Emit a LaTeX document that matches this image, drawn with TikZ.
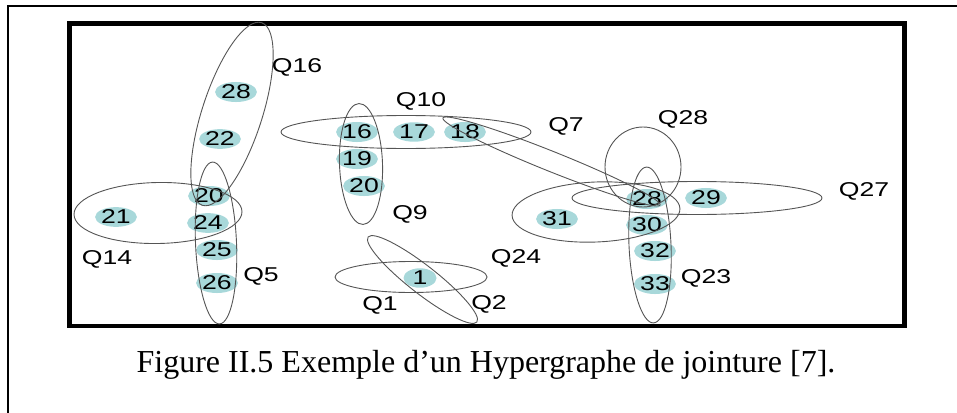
\documentclass[tikz,border=0pt]{standalone}
\usepackage{fontspec}
\setmainfont{Liberation Serif}
\newfontfamily\lblfont[FakeStretch=1.33]{Liberation Sans}
\usetikzlibrary{shapes.geometric}
\definecolor{vfill}{RGB}{168,216,218}
\definecolor{hline}{RGB}{85,85,85}

\begin{document}
\begin{tikzpicture}[x=1pt,y=-1pt,
	vert/.style={ellipse,fill=vfill,inner sep=0pt,minimum width=33pt,minimum height=18pt,font=\lblfont\fontsize{20}{20}\selectfont},
	hedge/.style={ellipse,draw=hline,line width=0.9pt,inner sep=0pt},
	qlbl/.style={font=\lblfont\fontsize{20}{20}\selectfont}]
				\useasboundingbox (0,0) rectangle (957,412);
				\draw [line width=1.5pt] (8,430) -- (8,6) -- (970,6);
				\draw [line width=4.5pt] (69.5,23.5) rectangle (904.5,326);
				% vertices
				\node[vert] (v28a) at (236,92) {28};
				\node[vert] (v22) at (220,139) {22};
				\node[vert] (v20a) at (209,196) {20};
				\node[vert] (v24) at (208,223) {24};
				\node[vert] (v25) at (217,250) {25};
				\node[vert] (v26) at (217,283) {26};
				\node[vert] (v21) at (116,217) {21};
				\node[vert] (v16) at (357,132) {16};
				\node[vert] (v19) at (357,159) {19};
				\node[vert] (v20b) at (364,186) {20};
				\node[vert] (v17) at (414,132) {17};
				\node[vert] (v18) at (465,132) {18};
				\node[vert] (v1) at (420,278) {1};
				\node[vert] (v28b) at (647,199) {28};
				\node[vert] (v29) at (706,198) {29};
				\node[vert] (v30) at (647,225) {30};
				\node[vert] (v31) at (557,219) {31};
				\node[vert] (v32) at (655,251) {32};
				\node[vert] (v33) at (655,284) {33};
				% hyperedges
				\node[hedge,minimum width=192pt,minimum height=60pt,rotate=72] (q16) at (232,114) {};
				\node[hedge,minimum width=162pt,minimum height=41pt,rotate=92.5] (q5) at (216,243) {};
				\node[hedge,minimum width=168pt,minimum height=61pt,rotate=1] (q14) at (158,213) {};
				\node[hedge,minimum width=121pt,minimum height=43pt,rotate=92] (q9) at (361,164) {};
				\node[hedge,minimum width=250pt,minimum height=33pt] (q10) at (406,132) {};
				\node[hedge,minimum width=234pt,minimum height=20pt,rotate=-21.85] (q7) at (551.5,161.5) {};
				\node[hedge,minimum width=152pt,minimum height=31pt] (q1) at (411,277) {};
				\node[hedge,minimum width=138pt,minimum height=28pt,rotate=-38] (q2) at (422.5,279.5) {};
				\node[hedge,minimum width=76pt,minimum height=80pt] (q28) at (643,167) {};
				\node[hedge,minimum width=156pt,minimum height=42pt,rotate=92.6] (q23) at (650,245) {};
				\node[hedge,minimum width=250pt,minimum height=33pt] (q27) at (697,198) {};
				\node[hedge,minimum width=168pt,minimum height=60pt,rotate=2.4] (q24) at (596,212) {};
				% labels
				\node[qlbl] (lq16) at (297,67) {Q16};
				\node[qlbl] (lq10) at (421,101) {Q10};
				\node[qlbl] (lq7) at (566,126) {Q7};
				\node[qlbl] (lq28) at (683,119) {Q28};
				\node[qlbl] (lq27) at (864,191) {Q27};
				\node[qlbl] (lq9) at (410,214) {Q9};
				\node[qlbl] (lq14) at (107,259) {Q14};
				\node[qlbl] (lq5) at (261,276) {Q5};
				\node[qlbl] (lq24) at (516,258) {Q24};
				\node[qlbl] (lq1) at (380,305) {Q1};
				\node[qlbl] (lq2) at (489,304) {Q2};
				\node[qlbl] (lq23) at (706,278) {Q23};
				\node[anchor=base,font=\fontsize{32}{32}\selectfont] (cap) at (486,372) {Figure II.5 Exemple d’un Hypergraphe de jointure [7].};
			\end{tikzpicture}
\end{document}
